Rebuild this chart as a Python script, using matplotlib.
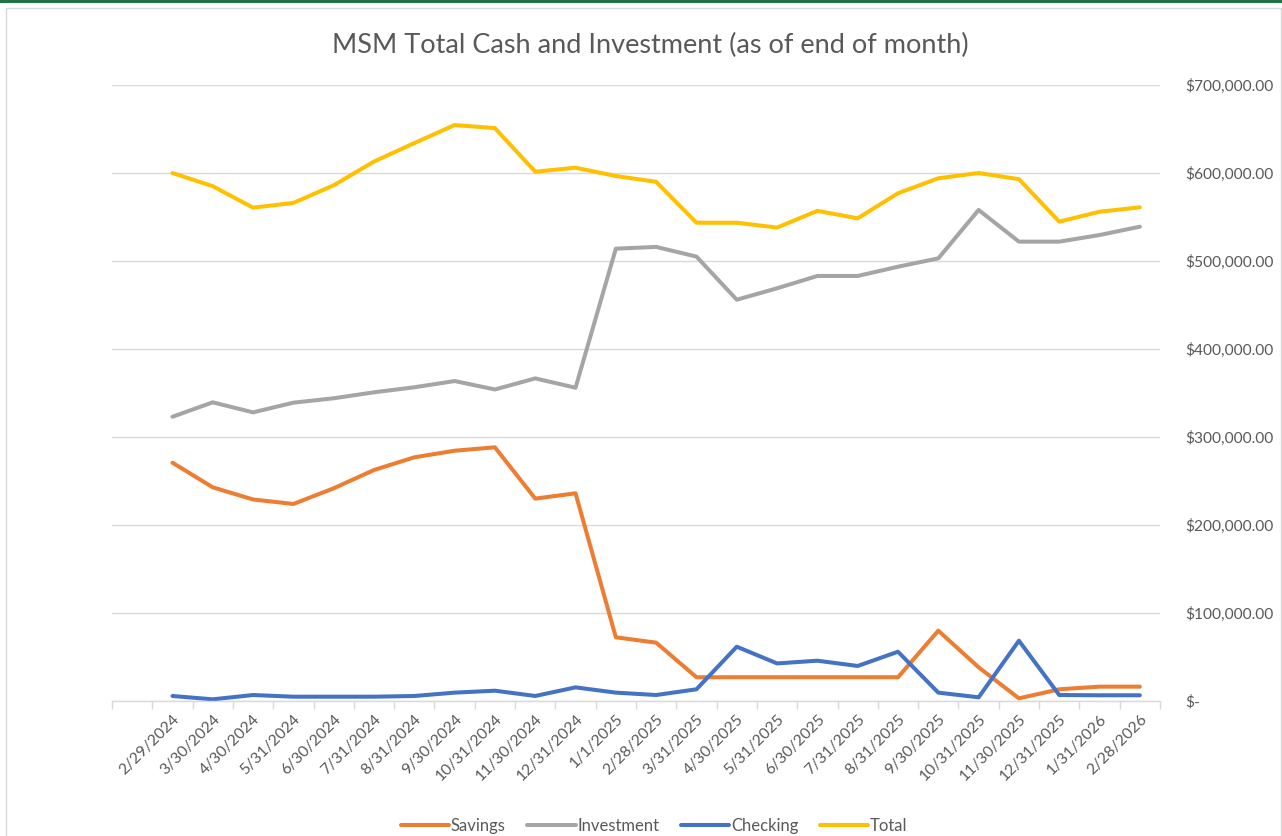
import matplotlib
matplotlib.use("Agg")
import matplotlib.pyplot as plt
from matplotlib.ticker import FuncFormatter, FixedLocator
from matplotlib.patches import Rectangle

plt.rcParams['font.family'] = ['Lato', 'DejaVu Sans']

dates = ["2/29/2024", "3/30/2024", "4/30/2024", "5/31/2024", "6/30/2024", "7/31/2024",
         "8/31/2024", "9/30/2024", "10/31/2024", "11/30/2024", "12/31/2024", "1/1/2025",
         "2/28/2025", "3/31/2025", "4/30/2025", "5/31/2025", "6/30/2025", "7/31/2025",
         "8/31/2025", "9/30/2025", "10/31/2025", "11/30/2025", "12/31/2025", "1/31/2026",
         "2/28/2026"]

savings = [270800, 242800, 229000, 223900, 241700, 262500, 276900, 284400, 288300, 230000,
           236000, 72400, 66300, 27000, 27000, 27000, 27000, 27000, 27000, 79900,
           38300, 3000, 13300, 16300, 16300]

investment = [323000, 339400, 328000, 339000, 344000, 350800, 356500, 363600, 354000, 366600,
              356000, 514000, 516000, 505000, 456000, 469000, 483000, 483000, 493500, 503000,
              558000, 522000, 522000, 529500, 539000]

checking = [5700, 1900, 6800, 4900, 4900, 4900, 5700, 9500, 11700, 5700,
            15500, 9500, 6800, 13300, 61700, 42700, 45800, 39800, 56000, 9500,
            4200, 68500, 6800, 6500, 6500]

total = [600000, 585000, 560600, 566000, 586000, 613000, 634000, 654500, 651000, 601500,
         606000, 596600, 590000, 543500, 543500, 538000, 557000, 548500, 577000, 594000,
         600000, 593000, 544700, 556000, 561000]

series = [("Savings", savings, "#ED7D31"),
          ("Investment", investment, "#A5A5A5"),
          ("Checking", checking, "#4472C4"),
          ("Total", total, "#FFC000")]

W, H = 1282, 836
fig = plt.figure(figsize=(W / 100, H / 100), dpi=100)
fig.patch.set_facecolor("white")

# outer frame decorations
fig.add_artist(Rectangle((0, 1 - 3 / H), 1, 3 / H, transform=fig.transFigure,
                         facecolor="#217346", edgecolor="none"))
fig.add_artist(Rectangle((6 / W, -0.01), 1 - 7 / W, 1 - 8 / H + 0.01, transform=fig.transFigure,
                         facecolor="none", edgecolor="#D9D9D9", linewidth=1))

ax = fig.add_axes([112 / W, 1 - 701 / H, (1160 - 112) / W, (701 - 85) / H])

xs = list(range(1, len(dates) + 1))
for name, vals, color in series:
    ax.plot(xs, vals, color=color, linewidth=2.9, label=name, solid_joinstyle="round",
            solid_capstyle="round")

ax.set_xlim(0.5 - 1, len(dates) + 0.5)
ax.set_ylim(0, 700000)

# y axis on right
ax.yaxis.tick_right()
ax.yaxis.set_label_position("right")
ax.set_yticks(range(0, 700001, 100000))
ax.yaxis.set_major_formatter(FuncFormatter(lambda v, p: "$-" if v == 0 else "${:,.2f}".format(v)))
ax.tick_params(axis="y", length=0, pad=18, labelsize=11.2, labelcolor="#595959")
ax.grid(axis="y", color="#D9D9D9", linewidth=1)
ax.set_axisbelow(True)

# x axis categories
ax.xaxis.set_major_locator(FixedLocator(xs))
ax.set_xticklabels(dates, rotation=45, ha="right", rotation_mode="anchor")
ax.xaxis.set_minor_locator(FixedLocator([i + 0.5 for i in range(-1, len(dates) + 1)]))
ax.tick_params(axis="x", which="major", length=0, pad=8, labelsize=11.3, labelcolor="#595959")
ax.tick_params(axis="x", which="minor", length=6, width=1, color="#D9D9D9")

for s in ["top", "left", "right"]:
    ax.spines[s].set_visible(False)
ax.spines["bottom"].set_color("#D9D9D9")
ax.spines["bottom"].set_linewidth(1)

fig.text(650 / W, 1 - 45 / H, "MSM Total Cash and Investment (as of end of month)",
         ha="center", va="center", fontsize=19.5, color="#595959")

handles, labels = ax.get_legend_handles_labels()
fig.legend(handles, labels, loc="center", bbox_to_anchor=(654 / W, 1 - 826 / H), ncol=4,
           frameon=False, fontsize=12, labelcolor="#595959", handlelength=2.9,
           handletextpad=0.1, columnspacing=1.3)

fig.savefig("out.png", dpi=100, facecolor="white")
